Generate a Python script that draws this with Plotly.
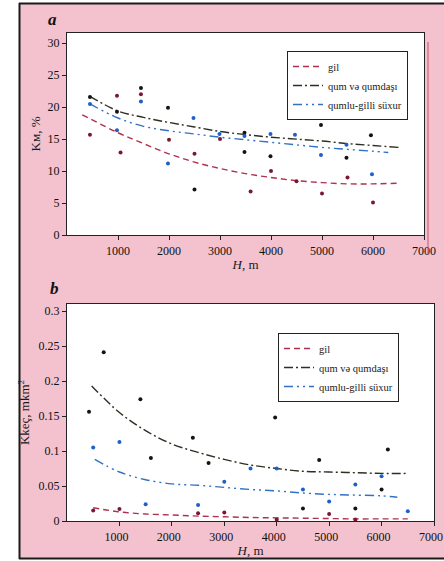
import plotly.graph_objects as go

W, H = 444, 561

# ---------------- Data: chart a (Km, %) ----------------
gil_a_x = [450, 980, 1050, 1450, 2000, 2500, 3000, 3600, 4000, 4500, 5000, 5500, 6000]
gil_a_y = [15.7, 21.8, 12.9, 22.0, 14.9, 12.7, 15.0, 6.8, 10.0, 8.4, 6.5, 9.0, 5.1]
qum_a_x = [450, 980, 1450, 1980, 2500, 3480, 3480, 3990, 4470, 4980, 5480, 5960]
qum_a_y = [21.6, 19.3, 23.0, 19.9, 7.1, 16.0, 13.0, 12.3, 19.5, 17.2, 12.1, 15.6]
qumlu_a_x = [450, 980, 1450, 1980, 2480, 2990, 3480, 3990, 4470, 4980, 5480, 5980]
qumlu_a_y = [20.5, 16.4, 20.9, 11.2, 18.3, 15.8, 15.5, 15.8, 15.7, 12.5, 14.1, 9.5]

# trend curves
gil_a_tx = [300, 1000, 1500, 2000, 2500, 3000, 3500, 4000, 4500, 5000, 5500, 6000, 6500]
gil_a_ty = [18.8, 16.0, 14.3, 12.7, 11.4, 10.4, 9.6, 9.0, 8.5, 8.2, 8.0, 8.0, 8.1]
qum_a_tx = [450, 1000, 1500, 2000, 2500, 3000, 3500, 4000, 4500, 5000, 5500, 6000, 6500]
qum_a_ty = [21.7, 19.4, 18.4, 17.6, 16.9, 16.2, 15.7, 15.3, 15.0, 14.7, 14.3, 14.0, 13.7]
qumlu_a_tx = [450, 1000, 1500, 2000, 2500, 3000, 3500, 4000, 4500, 5000, 5500, 6000, 6300]
qumlu_a_ty = [20.5, 18.3, 17.0, 16.3, 15.8, 15.3, 14.9, 14.5, 14.1, 13.7, 13.4, 13.1, 12.9]

# ---------------- Data: chart b (Kkeç, mkm²) ----------------
gil_b_x = [500, 1000, 2500, 3000, 4000, 5000, 5500]
gil_b_y = [0.015, 0.017, 0.011, 0.012, 0.002, 0.010, 0.002]
qum_b_x = [420, 700, 1400, 1600, 2400, 2700, 3970, 4500, 4810, 5500, 6000, 6120]
qum_b_y = [0.156, 0.241, 0.174, 0.090, 0.119, 0.083, 0.148, 0.018, 0.087, 0.018, 0.045, 0.102]
qumlu_b_x = [500, 1000, 1500, 2500, 3000, 3500, 4000, 4500, 5000, 5500, 6000, 6500]
qumlu_b_y = [0.105, 0.113, 0.024, 0.023, 0.056, 0.075, 0.075, 0.045, 0.028, 0.052, 0.064, 0.014]

gil_b_tx = [500, 1000, 1500, 2000, 2500, 3000, 3500, 4000, 4500, 5000, 5500, 6000, 6500]
gil_b_ty = [0.019, 0.013, 0.010, 0.0086, 0.007, 0.006, 0.005, 0.0045, 0.004, 0.0035, 0.003, 0.003, 0.003]
qum_b_tx = [470, 1000, 1500, 2000, 2500, 3000, 3500, 4000, 4500, 5000, 5500, 6000, 6500]
qum_b_ty = [0.193, 0.155, 0.129, 0.110, 0.098, 0.088, 0.080, 0.075, 0.071, 0.070, 0.069, 0.068, 0.068]
qumlu_b_tx = [530, 1000, 1500, 2000, 2500, 3000, 3500, 4000, 4500, 5000, 5500, 6000, 6300]
qumlu_b_ty = [0.088, 0.070, 0.059, 0.053, 0.051, 0.048, 0.045, 0.043, 0.040, 0.038, 0.037, 0.036, 0.034]

series_names = ["gil", "qum və qumdaşı", "qumlu-gilli süxur"]
x_ticks = [1000, 2000, 3000, 4000, 5000, 6000, 7000]
ya_ticks = [0, 5, 10, 15, 20, 25, 30]
yb_ticks = [0, 0.05, 0.1, 0.15, 0.2, 0.25, 0.3]
yb_labels = ["0", "0.05", "0.1", "0.15", "0.2", "0.25", "0.3"]

# ---------------- Styles ----------------
pt_col = ["#7a1832", "#141414", "#1f5fc8"]
ln_col = ["#b0304f", "#2e2e22", "#3272c4"]
dashes = ["6px,4px", "9px,3px,2px,3px", "9px,4px,2px,4px,2px,4px"]
FONT = "Liberation Serif"

fig = go.Figure()

def add_chart(pts, trends, xa, ya, legend):
    for i, ((tx, ty), name) in enumerate(zip(trends, series_names)):
        fig.add_trace(go.Scatter(x=tx, y=ty, mode="lines", name=name,
                                 line=dict(color=ln_col[i], width=1.4, dash=dashes[i], shape="spline"),
                                 xaxis=xa, yaxis=ya, legend=legend, showlegend=True))
    for i, (px, py) in enumerate(pts):
        fig.add_trace(go.Scatter(x=px, y=py, mode="markers",
                                 marker=dict(color=pt_col[i], size=4),
                                 xaxis=xa, yaxis=ya, showlegend=False, hoverinfo="x+y"))

add_chart([(gil_a_x, gil_a_y), (qum_a_x, qum_a_y), (qumlu_a_x, qumlu_a_y)],
          [(gil_a_tx, gil_a_ty), (qum_a_tx, qum_a_ty), (qumlu_a_tx, qumlu_a_ty)],
          "x", "y", "legend")
add_chart([(gil_b_x, gil_b_y), (qum_b_x, qum_b_y), (qumlu_b_x, qumlu_b_y)],
          [(gil_b_tx, gil_b_ty), (qum_b_tx, qum_b_ty), (qumlu_b_tx, qumlu_b_ty)],
          "x2", "y2", "legend2")

def px_x(p):
    return p / W

def px_y(p):
    return 1 - p / H

tickfont = dict(family=FONT, size=12, color="#111111")
axis_common = dict(showgrid=False, zeroline=False, showline=True, linecolor="#222",
                   linewidth=1.2, mirror=True, ticks="outside", ticklen=4,
                   tickcolor="#222", tickfont=tickfont, automargin=False,
                   ticklabeloverflow="allow")

fig.update_layout(
    width=W, height=H,
    margin=dict(l=0, r=0, t=0, b=0, pad=0),
    paper_bgcolor="#f3c2ce",
    plot_bgcolor="#ffffff",
    font=dict(family=FONT, color="#1a1a1a"),
    xaxis=dict(domain=[px_x(67), px_x(424)], range=[0, 7000], tickvals=x_ticks,
               title=dict(text="<i>H</i>, m", font=dict(family=FONT, size=13), standoff=3),
               anchor="y", **axis_common),
    yaxis=dict(domain=[px_y(235), px_y(33)], range=[0, 31.6], tickvals=ya_ticks,
               title=dict(text="Kм, %", font=dict(family=FONT, size=13), standoff=3),
               anchor="x", **axis_common),
    xaxis2=dict(domain=[px_x(67), px_x(434)], range=[0, 7000], tickvals=x_ticks,
                title=dict(text="<i>H</i>, m", font=dict(family=FONT, size=13), standoff=3),
                anchor="y2", ticklabelshift=-3, **axis_common),
    yaxis2=dict(domain=[px_y(521), px_y(304)], range=[0, 0.31], tickvals=yb_ticks,
                ticktext=yb_labels,
                title=dict(text="Kkeç, mkm<sup>2</sup>", font=dict(family=FONT, size=13), standoff=5),
                anchor="x2", **axis_common),
    legend=dict(x=px_x(287), y=px_y(51), xanchor="left", yanchor="top",
                bgcolor="#ffffff", bordercolor="#222", borderwidth=1,
                font=dict(family=FONT, size=10.5, color="#1a1a1a"),
                tracegroupgap=0, itemwidth=30),
    legend2=dict(x=px_x(278), y=px_y(333), xanchor="left", yanchor="top",
                 bgcolor="#ffffff", bordercolor="#222", borderwidth=1,
                 font=dict(family=FONT, size=10.5, color="#1a1a1a"),
                 tracegroupgap=0, itemwidth=30),
    showlegend=True,
)

shapes = [
    # white margin at the left and thin strips outside the scanned page
    dict(type="rect", xref="paper", yref="paper", x0=0, x1=px_x(19), y0=0, y1=1,
         fillcolor="#ffffff", line=dict(width=0), layer="below"),
    dict(type="rect", xref="paper", yref="paper", x0=0, x1=1, y0=px_y(3), y1=1,
         fillcolor="#ffffff", line=dict(width=0), layer="below"),
    dict(type="rect", xref="paper", yref="paper", x0=0, x1=1, y0=0, y1=px_y(559),
         fillcolor="#ffffff", line=dict(width=0), layer="below"),
    # page edges
    dict(type="line", xref="paper", yref="paper", x0=px_x(19.5), x1=px_x(19.5), y0=px_y(559), y1=px_y(3),
         line=dict(color="#1a1a1a", width=2)),
    dict(type="line", xref="paper", yref="paper", x0=px_x(19), x1=1, y0=px_y(3.5), y1=px_y(3.5),
         line=dict(color="#1a1a1a", width=2)),
    dict(type="line", xref="paper", yref="paper", x0=px_x(19), x1=1, y0=px_y(558.5), y1=px_y(558.5),
         line=dict(color="#1a1a1a", width=2)),
    dict(type="line", xref="paper", yref="paper", x0=px_x(428), x1=px_x(428), y0=px_y(255), y1=px_y(42),
         line=dict(color="#c8506a", width=1)),
]
fig.update_layout(shapes=shapes)

fig.add_annotation(text="<b><i>a</i></b>", xref="paper", yref="paper", x=px_x(52), y=px_y(20),
                   xanchor="center", yanchor="middle",
                   showarrow=False, font=dict(family=FONT, size=17, color="#111"))
fig.add_annotation(text="<b><i>b</i></b>", xref="paper", yref="paper", x=px_x(54), y=px_y(288),
                   xanchor="center", yanchor="middle",
                   showarrow=False, font=dict(family=FONT, size=17, color="#111"))

fig.write_html("out.html", config={"displayModeBar": False},
               post_script="document.body.style.margin='0';document.body.style.overflow='hidden';")
